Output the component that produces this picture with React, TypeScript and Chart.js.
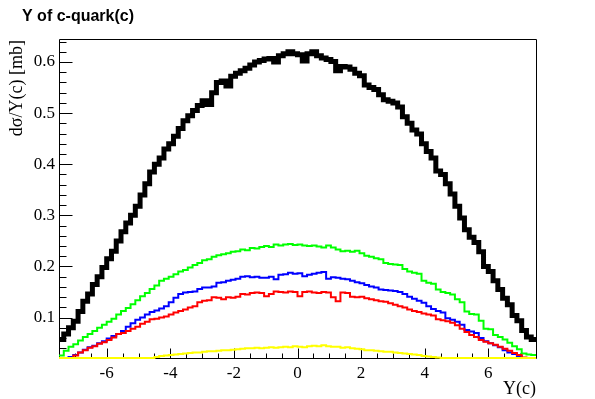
import React, { useEffect, useRef } from "react";
import { Chart, registerables } from "chart.js";
Chart.register(...registerables);

const TITLE = "Y of c-quark(c)";
const X_TITLE = "Y(c)";
const Y_TITLE = "dσ/Y(c) [mb]";

const X_MIN = -7.5;
const X_MAX = 7.5;
const N_BINS = 100;
const Y_MIN = 0.021;
const Y_MAX = 0.645;
const X_TICKS = [-6, -4, -2, 0, 2, 4, 6];
const Y_TICKS = [0.1, 0.2, 0.3, 0.4, 0.5, 0.6];
const X_TICK_LABELS = ["-6", "-4", "-2", "0", "2", "4", "6"];
const Y_TICK_LABELS = ["0.1", "0.2", "0.3", "0.4", "0.5", "0.6"];

const BLACK = [
  0.057, 0.068, 0.080, 0.093, 0.112, 0.132, 0.146, 0.165, 0.180, 0.198,
  0.215, 0.230, 0.250, 0.268, 0.285, 0.300, 0.318, 0.340, 0.362, 0.385,
  0.400, 0.412, 0.430, 0.440, 0.455, 0.470, 0.485, 0.495, 0.505, 0.515,
  0.524, 0.517, 0.540, 0.560, 0.563, 0.553, 0.572, 0.578, 0.583, 0.588,
  0.594, 0.600, 0.603, 0.606, 0.607, 0.600, 0.612, 0.616, 0.620, 0.616,
  0.614, 0.602, 0.616, 0.620, 0.612, 0.608, 0.605, 0.601, 0.583, 0.591,
  0.590, 0.586, 0.578, 0.573, 0.555, 0.550, 0.546, 0.536, 0.526, 0.523,
  0.520, 0.512, 0.493, 0.480, 0.467, 0.459, 0.440, 0.425, 0.412, 0.387,
  0.380, 0.362, 0.342, 0.318, 0.295, 0.272, 0.257, 0.247, 0.229, 0.200,
  0.190, 0.172, 0.155, 0.138, 0.125, 0.104, 0.094, 0.075, 0.062, 0.057,
];

const GREEN = [
  0.026, 0.035, 0.043, 0.048, 0.055, 0.062, 0.068, 0.074, 0.080, 0.086,
  0.092, 0.098, 0.106, 0.113, 0.119, 0.126, 0.134, 0.142, 0.148, 0.156,
  0.163, 0.172, 0.176, 0.180, 0.185, 0.190, 0.193, 0.198, 0.203, 0.207,
  0.212, 0.214, 0.219, 0.222, 0.224, 0.226, 0.229, 0.230, 0.233, 0.232,
  0.236, 0.235, 0.238, 0.240, 0.238, 0.243, 0.241, 0.243, 0.244, 0.242,
  0.243, 0.241, 0.240, 0.241, 0.239, 0.237, 0.241, 0.237, 0.233, 0.230,
  0.231, 0.229, 0.231, 0.226, 0.221, 0.219, 0.216, 0.214, 0.207, 0.205,
  0.204, 0.203, 0.195, 0.190, 0.188, 0.186, 0.172, 0.168, 0.166, 0.155,
  0.150, 0.148, 0.145, 0.136, 0.130, 0.112, 0.107, 0.106, 0.094, 0.078,
  0.077, 0.066, 0.062, 0.057, 0.051, 0.044, 0.038, 0.030, 0.028, 0.027,
];

const BLUE = [
  0.012, 0.017, 0.023, 0.027, 0.032, 0.037, 0.042, 0.045, 0.050, 0.054,
  0.059, 0.064, 0.068, 0.074, 0.082, 0.089, 0.096, 0.100, 0.106, 0.111,
  0.114, 0.118, 0.122, 0.130, 0.139, 0.146, 0.149, 0.150, 0.151, 0.156,
  0.159, 0.159, 0.161, 0.168, 0.169, 0.172, 0.174, 0.176, 0.180, 0.181,
  0.179, 0.180, 0.178, 0.178, 0.180, 0.175, 0.184, 0.185, 0.188, 0.186,
  0.187, 0.181, 0.184, 0.186, 0.188, 0.189, 0.176, 0.179, 0.178, 0.176,
  0.175, 0.172, 0.169, 0.167, 0.164, 0.161, 0.159, 0.155, 0.154, 0.153,
  0.152, 0.150, 0.146, 0.141, 0.137, 0.133, 0.129, 0.122, 0.117, 0.113,
  0.110, 0.099, 0.096, 0.092, 0.086, 0.076, 0.073, 0.070, 0.060, 0.054,
  0.050, 0.046, 0.042, 0.036, 0.032, 0.029, 0.025, 0.021, 0.016, 0.012,
];

const RED = [
  0.010, 0.015, 0.020, 0.026, 0.032, 0.036, 0.041, 0.044, 0.049, 0.052,
  0.056, 0.061, 0.068, 0.070, 0.074, 0.078, 0.082, 0.088, 0.092, 0.097,
  0.098, 0.100, 0.102, 0.106, 0.110, 0.113, 0.116, 0.120, 0.122, 0.130,
  0.133, 0.134, 0.140, 0.139, 0.136, 0.140, 0.139, 0.141, 0.146, 0.145,
  0.148, 0.149, 0.148, 0.142, 0.146, 0.151, 0.150, 0.149, 0.151, 0.150,
  0.142, 0.150, 0.151, 0.149, 0.148, 0.150, 0.149, 0.140, 0.132, 0.149,
  0.148, 0.141, 0.140, 0.141, 0.138, 0.136, 0.134, 0.132, 0.131, 0.128,
  0.125, 0.122, 0.120, 0.116, 0.113, 0.111, 0.108, 0.106, 0.104, 0.097,
  0.095, 0.093, 0.090, 0.085, 0.078, 0.072, 0.066, 0.062, 0.056, 0.053,
  0.050, 0.047, 0.043, 0.039, 0.035, 0.031, 0.027, 0.022, 0.017, 0.012,
];

const YELLOW = [
  0.004, 0.005, 0.006, 0.007, 0.008, 0.009, 0.010, 0.010, 0.011, 0.012,
  0.012, 0.013, 0.014, 0.015, 0.015, 0.016, 0.017, 0.018, 0.019, 0.021,
  0.023, 0.025, 0.026, 0.027, 0.028, 0.029, 0.030, 0.031, 0.032, 0.032,
  0.033, 0.034, 0.034, 0.035, 0.036, 0.036, 0.037, 0.038, 0.039, 0.040,
  0.040, 0.041, 0.040, 0.041, 0.042, 0.041, 0.042, 0.043, 0.042, 0.044,
  0.043, 0.042, 0.044, 0.045, 0.044, 0.046, 0.044, 0.043, 0.043, 0.041,
  0.042, 0.040, 0.039, 0.038, 0.036, 0.036, 0.035, 0.034, 0.033, 0.033,
  0.032, 0.031, 0.030, 0.029, 0.028, 0.027, 0.025, 0.024, 0.023, 0.022,
  0.020, 0.018, 0.017, 0.016, 0.015, 0.014, 0.013, 0.012, 0.011, 0.010,
  0.009, 0.009, 0.008, 0.007, 0.006, 0.006, 0.005, 0.004, 0.004, 0.003,
];

const BIN_W = (X_MAX - X_MIN) / N_BINS;

// ROOT draws bins below the frame minimum on the frame's lower edge.
function toSteps(vals: number[]) {
  const pts = vals.map((v, i) => ({ x: X_MIN + i * BIN_W, y: Math.max(v, Y_MIN) }));
  pts.push({ x: X_MAX, y: Math.max(vals[vals.length - 1], Y_MIN) });
  return pts;
}

const SERIF = "'Liberation Serif'";

const frameAndTicks = {
  id: "frameAndTicks",
  beforeDatasetsDraw(chart: any) {
    const ctx = chart.ctx;
    const { left, right, top, bottom } = chart.chartArea;
    const xs = chart.scales.x;
    const ys = chart.scales.y;
    const L = Math.round(left) + 0.5;
    const R = Math.round(right) + 0.5;
    const T = Math.round(top) + 0.5;
    const B = Math.round(bottom) + 0.5;
    ctx.save();
    ctx.strokeStyle = "#000";
    ctx.lineWidth = 1;
    ctx.beginPath();
    ctx.rect(L, T, R - L, B - T);
    for (let v = 0.04; v < Y_MAX; v += 0.02) {
      const major = Y_TICKS.some((t) => Math.abs(t - v) < 1e-6);
      const py = Math.round(ys.getPixelForValue(v)) + 0.5;
      ctx.moveTo(L, py);
      ctx.lineTo(L + (major ? 13 : 7), py);
    }
    for (let v = -7; v < X_MAX; v += 0.5) {
      const major = X_TICKS.some((t) => Math.abs(t - v) < 1e-6);
      const px = Math.round(xs.getPixelForValue(v)) + 0.5;
      ctx.moveTo(px, B);
      ctx.lineTo(px, B - (major ? 10 : 5));
    }
    ctx.stroke();
    ctx.restore();
  },
  afterDraw(chart: any) {
    const ctx = chart.ctx;
    const { left, right, top, bottom } = chart.chartArea;
    const xs = chart.scales.x;
    const ys = chart.scales.y;
    ctx.save();
    ctx.fillStyle = "#000";
    ctx.font = "17px " + SERIF;
    ctx.textBaseline = "middle";
    ctx.textAlign = "right";
    Y_TICKS.forEach((v, i) => {
      ctx.fillText(Y_TICK_LABELS[i], left - 4, ys.getPixelForValue(v));
    });
    ctx.textAlign = "center";
    X_TICKS.forEach((v, i) => {
      ctx.fillText(X_TICK_LABELS[i], xs.getPixelForValue(v), bottom + 16);
    });
    ctx.textBaseline = "alphabetic";
    ctx.font = "bold 16px 'Liberation Sans'";
    ctx.textAlign = "left";
    ctx.fillText(TITLE, 22, 21);
    ctx.font = "18px " + SERIF;
    ctx.textAlign = "right";
    ctx.fillText(X_TITLE, right, 394);
    ctx.translate(22, top + 1);
    ctx.rotate(-Math.PI / 2);
    ctx.textAlign = "right";
    ctx.fillText(Y_TITLE, 0, 0);
    ctx.restore();
  },
};

export default function App() {
  const ref = useRef<HTMLCanvasElement | null>(null);
  useEffect(() => {
    if (!ref.current) return;
    const mk = (label: string, vals: number[], color: string, width: number, order: number) => ({
      label,
      data: toSteps(vals),
      borderColor: color,
      backgroundColor: color,
      borderWidth: width,
      pointRadius: 0,
      fill: false,
      stepped: "before" as const,
      tension: 0,
      borderJoinStyle: "miter" as const,
      borderCapStyle: "butt" as const,
      clip: 3,
      order,
    });
    const chart = new Chart(ref.current, {
      type: "line",
      data: {
        datasets: [
          mk("black", BLACK, "#000000", 5, 4),
          mk("green", GREEN, "#00ff00", 2, 3),
          mk("blue", BLUE, "#0000ff", 2, 2),
          mk("red", RED, "#ff0000", 2, 1),
          mk("yellow", YELLOW, "#ffff00", 2, 0),
        ],
      },
      options: {
        animation: false,
        responsive: false,
        maintainAspectRatio: false,
        events: [],
        layout: { padding: { top: 39, right: 59, left: 0, bottom: 0 } },
        plugins: {
          legend: { display: false },
          tooltip: { enabled: false },
          title: { display: false },
        },
        scales: {
          x: {
            type: "linear",
            min: X_MIN,
            max: X_MAX,
            grid: { display: false, drawTicks: false },
            border: { display: false },
            afterBuildTicks: (s: any) => {
              s.ticks = X_TICKS.map((v) => ({ value: v }));
            },
            afterFit: (s: any) => {
              s.height = 41;
            },
            ticks: { display: false },
          },
          y: {
            type: "linear",
            min: Y_MIN,
            max: Y_MAX,
            grid: { display: false, drawTicks: false },
            border: { display: false },
            afterBuildTicks: (s: any) => {
              s.ticks = Y_TICKS.map((v) => ({ value: v }));
            },
            afterFit: (s: any) => {
              s.width = 59;
            },
            ticks: { display: false },
          },
        },
      },
      plugins: [frameAndTicks],
    } as any);
    return () => chart.destroy();
  }, []);
  return (
    <div style={{ position: "absolute", left: 0, top: 0, width: 595, height: 399, background: "#fff" }}>
      <canvas ref={ref} width={595} height={399} style={{ display: "block", width: 595, height: 399 }} />
    </div>
  );
}
